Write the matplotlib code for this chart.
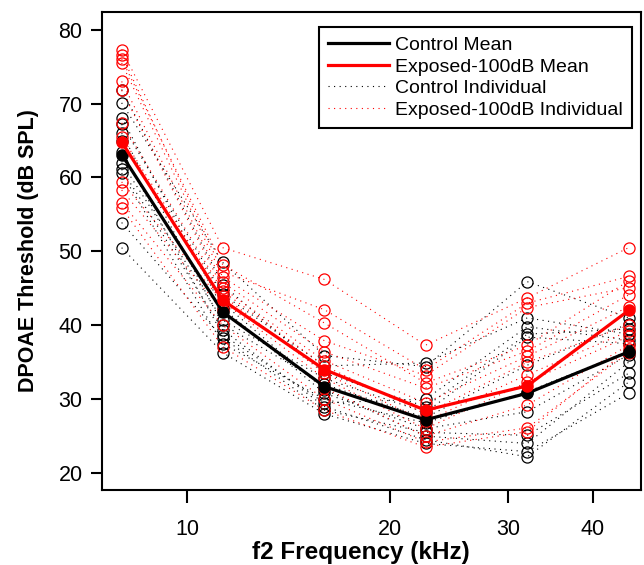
import matplotlib
matplotlib.use("Agg")
import matplotlib.pyplot as plt
from matplotlib.lines import Line2D
from matplotlib.ticker import FixedLocator, NullLocator, FixedFormatter

plt.rcParams['font.family'] = ['Liberation Sans', 'DejaVu Sans']

# f2 frequencies (kHz)
freqs = [8.0, 11.3, 16.0, 22.6, 32.0, 45.25]

# group means (dB SPL)
control_mean = [63.1, 41.8, 31.7, 27.2, 30.8, 36.4]
exposed_mean = [64.8, 43.4, 34.0, 28.5, 31.8, 42.0]

# individual animals, one row per animal
control_ind = [
    [71.9, 45.5, 33.5, 29.0, 38.8, 39.5],
    [70.1, 48.5, 35.9, 34.4, 45.9, 41.0],
    [68.1, 42.3, 30.8, 26.0, 28.3, 36.0],
    [67.2, 44.2, 34.5, 34.9, 41.0, 38.8],
    [66.0, 40.1, 32.0, 27.5, 34.6, 40.2],
    [65.0, 43.0, 31.3, 25.0, 24.0, 35.0],
    [63.5, 38.7, 29.5, 30.0, 39.8, 38.0],
    [62.0, 40.7, 32.8, 28.2, 38.4, 37.5],
    [61.1, 39.4, 29.0, 24.5, 22.2, 32.3],
    [60.6, 37.5, 30.0, 26.8, 31.0, 36.5],
    [53.9, 38.3, 28.5, 25.5, 25.1, 33.5],
    [50.5, 36.3, 28.0, 24.0, 22.9, 30.8],
]
exposed_ind = [
    [77.3, 50.5, 46.2, 37.3, 43.7, 50.5],
    [76.6, 47.2, 42.1, 34.0, 43.0, 46.6],
    [76.0, 48.2, 40.3, 32.2, 37.3, 46.0],
    [75.5, 46.5, 37.9, 33.2, 42.4, 45.1],
    [73.0, 45.8, 36.4, 31.5, 36.5, 44.1],
    [71.8, 45.0, 35.2, 29.5, 35.8, 42.5],
    [67.4, 44.6, 34.5, 28.0, 35.0, 40.0],
    [65.5, 44.0, 33.5, 27.0, 33.3, 39.2],
    [59.4, 43.2, 32.8, 26.0, 32.3, 38.5],
    [58.3, 42.0, 31.5, 25.0, 29.2, 37.3],
    [56.6, 40.0, 30.0, 24.2, 26.1, 36.3],
    [55.9, 37.1, 28.5, 23.5, 25.6, 36.8],
]

xticks = [10, 20, 30, 40]
yticks = [20, 30, 40, 50, 60, 70, 80]

fig = plt.figure(figsize=(6.44, 5.65), dpi=100)
ax = fig.add_axes([0.1584, 0.1327, 0.8369, 0.8461])

dots = (0, (1, 4))
for row in control_ind:
    ax.plot(freqs, row, color='black', linestyle=dots, linewidth=0.8,
            marker='o', markersize=8, markerfacecolor='none',
            markeredgecolor='black', markeredgewidth=0.9)
for row in exposed_ind:
    ax.plot(freqs, row, color='red', linestyle=dots, linewidth=0.8,
            marker='o', markersize=8, markerfacecolor='none',
            markeredgecolor='red', markeredgewidth=0.9)

ax.plot(freqs, control_mean, color='black', linewidth=2.3,
        marker='o', markersize=8)
ax.plot(freqs, exposed_mean, color='red', linewidth=2.3,
        marker='o', markersize=8)

ax.set_xscale('log')
ax.set_xlim(7.48, 47.2)
ax.set_ylim(17.7, 82.4)
ax.xaxis.set_major_locator(FixedLocator(xticks))
ax.xaxis.set_major_formatter(FixedFormatter([str(t) for t in xticks]))
ax.xaxis.set_minor_locator(NullLocator())
ax.set_yticks(yticks)

for s in ax.spines.values():
    s.set_linewidth(1.5)
ax.tick_params(axis='x', length=9, width=1.5, pad=12, labelsize=15.5)
ax.tick_params(axis='y', length=8, width=1.5, pad=6, labelsize=15.5)

ax.set_xlabel("f2 Frequency (kHz)", fontsize=17.5, fontweight='bold')
ax.xaxis.set_label_coords(0.48, -0.13, transform=ax.transAxes)
ax.xaxis.label.set_va('center')
ax.set_ylabel("DPOAE Threshold (dB SPL)", fontsize=15.5, fontweight='bold', labelpad=14)

handles = [
    Line2D([], [], color='black', linewidth=2.3),
    Line2D([], [], color='red', linewidth=2.3),
    Line2D([], [], color='black', linestyle=dots, linewidth=0.8),
    Line2D([], [], color='red', linestyle=dots, linewidth=0.8),
]
labels = ["Control Mean", "Exposed-100dB Mean",
          "Control Individual", "Exposed-100dB Individual"]
leg = ax.legend(handles, labels, loc='upper right',
                bbox_to_anchor=(0.983, 0.9686), borderaxespad=0,
                fontsize=14, fancybox=False, framealpha=1,
                edgecolor='black', handlelength=3.1, handletextpad=0.3,
                labelspacing=0.2, borderpad=0.49)
leg.get_frame().set_linewidth(1.5)

fig.savefig("out.png", dpi=100)
